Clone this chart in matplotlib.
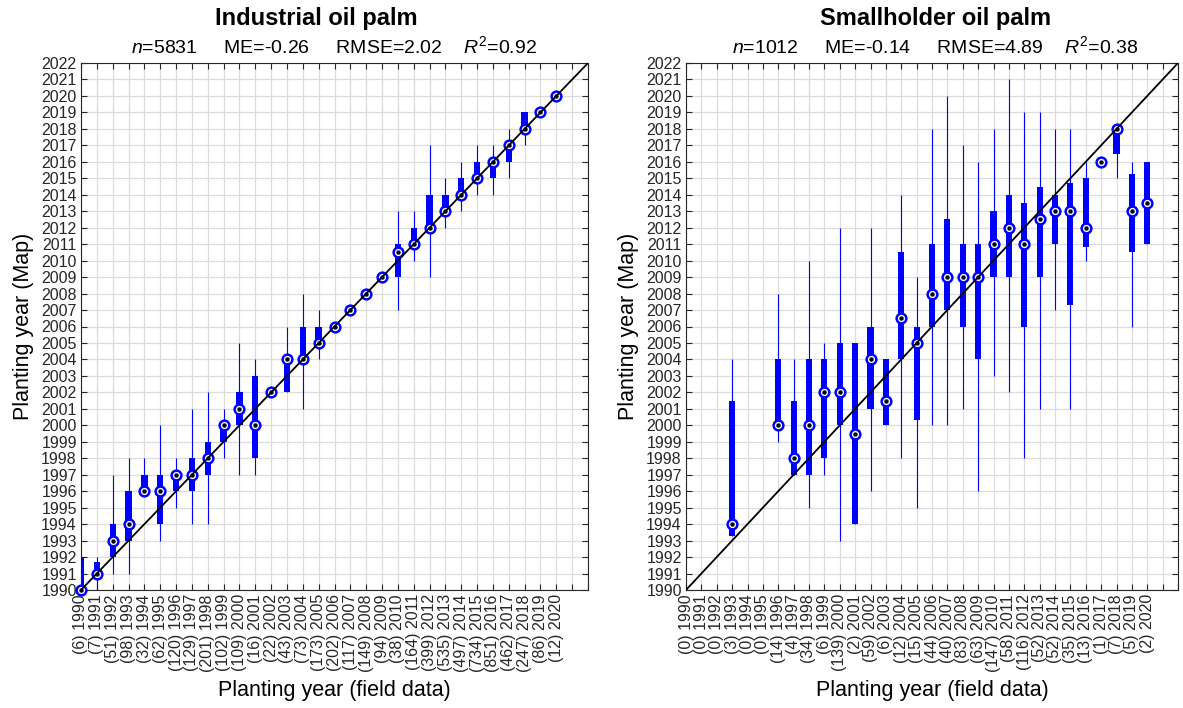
import numpy as np
import matplotlib.pyplot as plt

plt.rcParams['font.family'] = ['Liberation Sans', 'DejaVu Sans']
plt.rcParams['mathtext.fontset'] = 'custom'
plt.rcParams['mathtext.rm'] = 'Liberation Sans'
plt.rcParams['mathtext.it'] = 'Liberation Sans:italic'

anos = list(range(1990, 2021))

# Industrial oil palm
n_ind = [6, 7, 51, 98, 32, 62, 120, 129, 201, 102, 109, 16, 22, 43, 73, 173,
         202, 117, 149, 94, 38, 164, 399, 535, 497, 734, 851, 462, 247, 86, 12]
med_ind = [1990, 1991, 1993, 1994, 1996, 1996, 1997, 1997, 1998, 2000, 2001, 2000, 2002, 2004, 2004, 2005,
           2006, 2007, 2008, 2009, 2010.5, 2011, 2012, 2013, 2014, 2015, 2016, 2017, 2018, 2019, 2020]
q1_ind = [1990, 1991, 1992, 1993, 1996, 1994, 1996, 1996, 1997, 1999, 2000, 1998, 2002, 2002, 2004, 2005,
          2006, 2007, 2008, 2009, 2009, 2011, 2012, 2013, 2014, 2015, 2015, 2016, 2018, 2019, 2020]
q3_ind = [1992, 1991.7, 1994, 1996, 1997, 1997, 1997, 1998, 1999, 2000, 2002, 2003, 2002, 2004, 2006, 2006,
          2006, 2007, 2008, 2009, 2011, 2012, 2014, 2014, 2015, 2016, 2016, 2017, 2019, 2019, 2020]
wlo_ind = [1990, 1990, 1991, 1991, 1996, 1993, 1995, 1994, 1994, 1998, 1997, 1997, 2002, 2002, 2001, 2004,
           2006, 2007, 2008, 2009, 2007, 2010, 2009, 2012, 2013, 2014, 2014, 2015, 2017, 2019, 2020]
whi_ind = [1992, 1992, 1997, 1998, 1998, 2000, 1998, 2001, 2002, 2001, 2005, 2004, 2002, 2006, 2008, 2007,
           2006, 2007, 2008, 2009, 2013, 2013, 2017, 2015, 2016, 2017, 2017, 2018, 2019, 2019, 2020]

# Smallholder oil palm (None = sem dados)
n_sh = [0, 0, 0, 3, 0, 0, 14, 4, 34, 6, 139, 2, 59, 6, 12, 15,
        44, 40, 83, 63, 147, 58, 116, 52, 52, 35, 13, 1, 7, 5, 2]
med_sh = [None, None, None, 1994, None, None, 2000, 1998, 2000, 2002, 2002, 1999.5, 2004, 2001.5, 2006.5, 2005,
          2008, 2009, 2009, 2009, 2011, 2012, 2011, 2012.5, 2013, 2013, 2012, 2016, 2018, 2013, 2013.5]
q1_sh = [None, None, None, 1993.3, None, None, 2000, 1997, 1997, 1998, 2000, 1994, 2001, 2000, 2004, 2000.3,
         2006, 2007, 2006, 2004, 2009, 2009, 2006, 2009, 2011, 2007.3, 2010.8, 2016, 2016.5, 2010.5, 2011]
q3_sh = [None, None, None, 2001.45, None, None, 2004, 2001.45, 2004, 2004, 2005, 2005, 2006, 2004, 2010.5, 2006,
         2011, 2012.5, 2011, 2011, 2013, 2014, 2013.5, 2014.5, 2014, 2014.7, 2015, 2016, 2018, 2015.25, 2016]
wlo_sh = [None, None, None, 1993.3, None, None, 1999, 1997, 1995, 1997, 1993, 1994, 1996, 2000, 1998, 1995,
          2000, 2000, 2001, 1996, 2003, 2002, 1998, 2001, 2007, 2001, 2010, 2016, 2015, 2006, 2011]
whi_sh = [None, None, None, 2004, None, None, 2008, 2004, 2010, 2005, 2012, 2005, 2012, 2004, 2014, 2009,
          2018, 2020, 2017, 2016, 2018, 2021, 2019, 2019, 2018, 2018, 2016, 2016, 2018, 2016, 2016]

azul = (0, 0, 1)
cinza = '#262626'
W = 1183.0
H = 708.0


def grafico(ax, n, med, q1, q3, wlo, whi, titulo, subtitulo, xt, xs):
    for i, ano in enumerate(anos):
        if med[i] is None:
            continue
        ax.vlines(ano, wlo[i], whi[i], color=azul, lw=0.8, zorder=2)
        ax.bar(ano, q3[i] - q1[i], bottom=q1[i], width=0.4, color=azul, zorder=3)
        ax.plot(ano, med[i], 'o', ms=7, mfc='white', mec=azul, mew=1.8, zorder=4, clip_on=False)
        ax.plot(ano, med[i], 'o', ms=2.2, color='black', zorder=5, clip_on=False)
    ax.plot([1990, 2022], [1990, 2022], color='black', lw=1.3, zorder=6)

    ax.set_xlim(1990, 2022)
    ax.set_ylim(1990, 2022)
    ax.set_xticks(range(1990, 2023))
    ax.set_xticklabels(['({}) {}'.format(n[i], a) for i, a in enumerate(anos)] + ['', ''],
                       rotation=90, fontsize=11.5)
    ax.set_yticks(range(1990, 2023))
    ax.set_yticklabels([str(a) for a in range(1990, 2023)], fontsize=11.5)
    ax.tick_params(direction='in', top=True, right=True, length=4, width=0.8, pad=3,
                   color=cinza, labelcolor=cinza)
    ax.grid(True, color='#dcdcdc', lw=0.9)
    ax.set_axisbelow(True)
    for s in ax.spines.values():
        s.set_linewidth(0.8)
        s.set_color(cinza)
    ax.set_xlabel('Planting year (field data)', fontsize=15.5, labelpad=6)
    ax.set_ylabel('Planting year (Map)', fontsize=15.5, labelpad=5)
    fig.text(xt / W, 1 - 18 / H, titulo, ha='center', va='center',
             fontsize=17, fontweight='bold')
    fig.text(xs / W, 1 - 46 / H, subtitulo, ha='center', va='center', fontsize=14)


fig = plt.figure(figsize=(11.83, 7.08), dpi=100)
ax1 = fig.add_axes([81 / W, (H - 590) / H, (588 - 81) / W, (590 - 63) / H])
ax2 = fig.add_axes([686 / W, (H - 590) / H, (1178 - 686) / W, (590 - 63) / H])

grafico(ax1, n_ind, med_ind, q1_ind, q3_ind, wlo_ind, whi_ind, 'Industrial oil palm',
        r'$n$=5831     ME=-0.26     RMSE=2.02    $R^2$=0.92', 316, 334)
grafico(ax2, n_sh, med_sh, q1_sh, q3_sh, wlo_sh, whi_sh, 'Smallholder oil palm',
        r'$n$=1012     ME=-0.14     RMSE=4.89    $R^2$=0.38', 936, 935)

fig.savefig('out.png', dpi=100)
